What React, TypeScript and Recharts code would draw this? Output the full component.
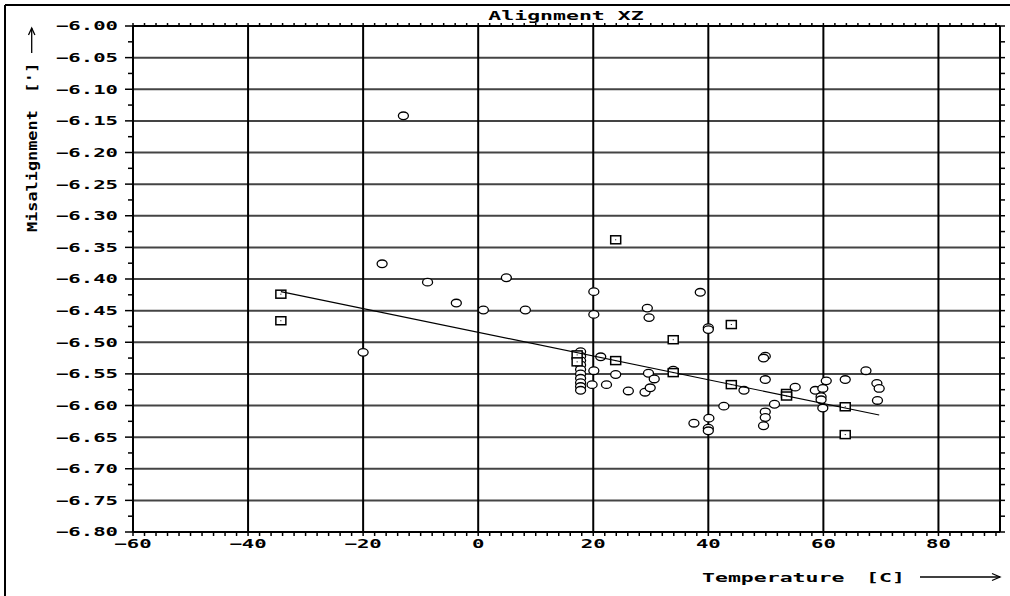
import React from "react";
import { ScatterChart, Scatter, XAxis, YAxis, CartesianGrid } from "recharts";

const xMajorTicks = [-60, -40, -20, 0, 20, 40, 60, 80];
const yMajorTicks = [
  -6.8, -6.75, -6.7, -6.65, -6.6, -6.55, -6.5, -6.45, -6.4,
  -6.35, -6.3, -6.25, -6.2, -6.15, -6.1, -6.05, -6.0,
];
// minor ticks every 2 C and every 0.025'
const xMinorTicks = Array.from({ length: 76 }, (_, i) => -60 + i * 2);
const yMinorTicks = Array.from({ length: 33 }, (_, i) => +(-6.8 + i * 0.025).toFixed(3));

const circleTemp = [
  -20, -16.7, -13.0, -8.8, -3.8, 0.9, 4.9, 8.2,
  17.8, 17.8, 17.8, 17.8, 17.8, 17.8, 17.8, 17.8, 17.8, 17.8,
  20.1, 20.1, 21.3, 20.1, 19.8, 22.3, 23.9, 26.1, 29.0, 29.9, 29.4, 29.7, 29.6, 30.6, 33.9,
  37.5, 38.6, 40.0, 40.0, 40.1, 40.0, 40.0, 42.7, 46.2,
  49.9, 49.6, 49.9, 49.9, 49.9, 49.6, 51.5, 55.1,
  58.6, 59.9, 59.6, 59.6, 60.5, 59.9, 63.8, 67.4, 69.3, 69.7, 69.4,
];
const circleMis = [
  -6.516, -6.376, -6.142, -6.405, -6.438, -6.449, -6.398, -6.449,
  -6.515, -6.522, -6.529, -6.536, -6.543, -6.55, -6.557, -6.564, -6.57, -6.576,
  -6.42, -6.456, -6.523, -6.545, -6.567, -6.567, -6.551, -6.577, -6.579, -6.572, -6.446, -6.461, -6.549, -6.558, -6.544,
  -6.628, -6.421, -6.477, -6.48, -6.62, -6.636, -6.64, -6.601, -6.576,
  -6.522, -6.525, -6.559, -6.61, -6.619, -6.632, -6.598, -6.571,
  -6.576, -6.573, -6.586, -6.591, -6.561, -6.604, -6.559, -6.545, -6.565, -6.573, -6.592,
];

const squareTemp = [-34.3, -34.3, 17.2, 17.2, 23.9, 23.9, 33.9, 33.9, 44, 44, 53.6, 53.6, 63.8, 63.8];
const squareMis = [-6.424, -6.466, -6.52, -6.531, -6.338, -6.529, -6.496, -6.548, -6.472, -6.567, -6.581, -6.585, -6.602, -6.646];

const fitTemp = [-34.3, 69.7];
const fitMis = [-6.42, -6.615];

const circleData = circleTemp.map((x, i) => ({ x, y: circleMis[i] }));
const squareData = squareTemp.map((x, i) => ({ x, y: squareMis[i] }));
const fitData = fitTemp.map((x, i) => ({ x, y: fitMis[i] }));

const FONT = "'DejaVu Sans Mono', monospace";
const SX = 1.72;

const minus = (s: string) => s.replace("-", "\u2212");

function Label({ x, y, text, anchor = "start", size = 12.5, sx = SX }: any) {
  return (
    <g transform={`translate(${x},${y})`}>
      <text
        transform={`scale(${sx},1)`}
        textAnchor={anchor}
        fontFamily={FONT}
        fontWeight="bold"
        fontSize={size}
        fill="#000"
        style={{ whiteSpace: "pre" }}
      >
        {text}
      </text>
    </g>
  );
}

const BottomTick = ({ x, y, payload }: any) => {
  const v = payload.value;
  const major = xMajorTicks.includes(v);
  return (
    <g>
      <line x1={x} x2={x} y1={y} y2={y + 4} stroke="#000" strokeWidth={1.5} />
      {major && <Label x={x} y={y + 16} text={minus(String(v))} anchor="middle" size={12} />}
    </g>
  );
};

const TopTick = ({ x, y }: any) => (
  <line x1={x} x2={x} y1={y} y2={y - 3} stroke="#000" strokeWidth={1.5} />
);

const LeftTick = ({ x, y, payload }: any) => {
  const v = payload.value;
  const major = Math.abs(v * 20 - Math.round(v * 20)) < 1e-6;
  return (
    <g>
      <line x1={x - (major ? 8 : 5)} x2={x} y1={y} y2={y} stroke="#000" strokeWidth={1.5} />
      {major && <Label x={x - 15} y={y + 4.4} text={minus(v.toFixed(2))} anchor="end" size={12} />}
    </g>
  );
};

const RightTick = ({ x, y }: any) => (
  <line x1={x} x2={x + 5} y1={y} y2={y} stroke="#000" strokeWidth={1.5} />
);

const CircleMark = (p: any) => (
  <ellipse cx={p.cx} cy={p.cy} rx={5} ry={3.8} fill="#fff" stroke="#000" strokeWidth={1.3} />
);

const SquareMark = (p: any) => (
  <g>
    <rect x={p.cx - 5} y={p.cy - 4} width={10} height={8} fill="#fff" stroke="#000" strokeWidth={1.5} />
    <rect x={p.cx - 0.5} y={p.cy - 0.5} width={1} height={1} fill="#000" />
  </g>
);

const NoMark = () => <g />;

export default function App() {
  const axisLine = { stroke: "#000", strokeWidth: 2 };
  return (
    <div style={{ position: "absolute", left: 0, top: 0, width: 1010, height: 596, background: "#fff" }}>
      <ScatterChart width={1010} height={596} margin={{ top: 0, right: 0, bottom: 0, left: 0 }}>
        <CartesianGrid vertical={false} horizontalValues={yMajorTicks} stroke="#444" strokeWidth={2} />
        <CartesianGrid horizontal={false} verticalValues={xMajorTicks} stroke="#000" strokeWidth={2} />
        <XAxis
          type="number"
          dataKey="x"
          domain={[-60, 90.7]}
          allowDataOverflow
          ticks={xMinorTicks}
          interval={0}
          height={64}
          tickSize={0}
          tickMargin={0}
          tickLine={false}
          axisLine={axisLine}
          tick={<BottomTick />}
        />
        <XAxis
          xAxisId="top"
          orientation="top"
          type="number"
          dataKey="x"
          domain={[-60, 90.7]}
          allowDataOverflow
          ticks={xMinorTicks}
          interval={0}
          height={26}
          tickSize={0}
          tickMargin={0}
          tickLine={false}
          axisLine={axisLine}
          tick={<TopTick />}
        />
        <YAxis
          type="number"
          dataKey="y"
          domain={[-6.8, -6.0]}
          allowDataOverflow
          ticks={yMinorTicks}
          interval={0}
          width={133}
          tickSize={0}
          tickMargin={0}
          tickLine={false}
          axisLine={axisLine}
          tick={<LeftTick />}
        />
        <YAxis
          yAxisId="right"
          orientation="right"
          type="number"
          dataKey="y"
          domain={[-6.8, -6.0]}
          allowDataOverflow
          ticks={yMinorTicks}
          interval={0}
          width={10}
          tickSize={0}
          tickMargin={0}
          tickLine={false}
          axisLine={axisLine}
          tick={<RightTick />}
        />
        <Scatter data={circleData} shape={CircleMark} isAnimationActive={false} />
        <Scatter data={squareData} shape={SquareMark} isAnimationActive={false} />
        <Scatter
          data={fitData}
          shape={NoMark}
          line={{ stroke: "#000", strokeWidth: 1.2 }}
          isAnimationActive={false}
        />
      </ScatterChart>
      <svg
        width={1010}
        height={596}
        style={{ position: "absolute", left: 0, top: 0, pointerEvents: "none" }}
      >
        <line x1={5} y1={5} x2={1010} y2={5} stroke="#000" strokeWidth={2} />
        <line x1={5} y1={5} x2={5} y2={596} stroke="#000" strokeWidth={2} />
        <Label x={566} y={19.5} text="Alignment XZ" anchor="middle" />
        <Label x={702} y={581.5} text="Temperature" />
        <Label x={866} y={581.5} text="[C]" />
        <line x1={920} y1={577} x2={1000} y2={577} stroke="#000" strokeWidth={1.3} />
        <polyline points="992,573.5 1000,577 992,580.5" fill="none" stroke="#000" strokeWidth={1.3} />
        <g transform="translate(36.7,232) rotate(-90)">
          <Label x={0} y={0} text="Misalignment" size={13.5} sx={1.25} />
          <Label x={139} y={0} text="[']" size={13.5} sx={1.25} />
        </g>
        <line x1={31.7} y1={53} x2={31.7} y2={28} stroke="#000" strokeWidth={1.3} />
        <polyline points="28.5,35 31.7,28 34.9,35" fill="none" stroke="#000" strokeWidth={1.3} />
      </svg>
    </div>
  );
}
